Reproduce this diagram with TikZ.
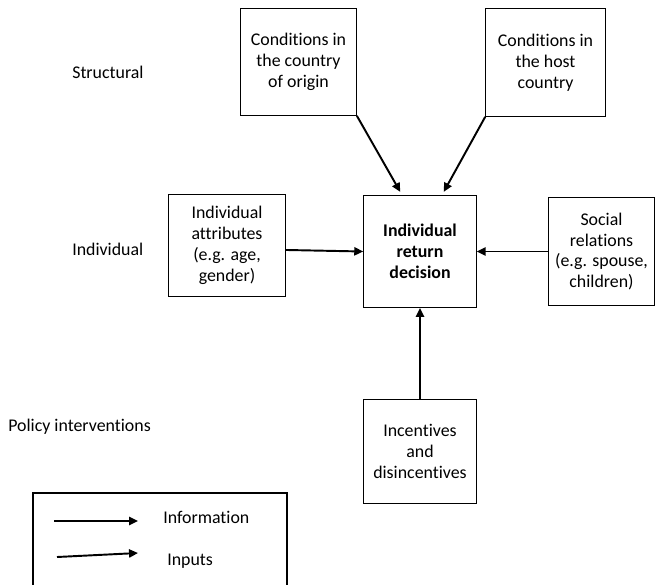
\documentclass[tikz,border=0pt]{standalone}
\usepackage{fontspec}
\setmainfont{Carlito}[Ligatures=NoCommon]
\usetikzlibrary{arrows.meta}
\begin{document}
\begin{tikzpicture}[x=0.0236cm,y=-0.0236cm,
  font=\fontsize{12pt}{14pt}\selectfont,
  box/.style={draw,line width=0.7pt,align=center,inner sep=0pt,outer sep=0pt},
  arr/.style={line width=1.3pt,-{Triangle[length=6pt,width=5.5pt]}},
  lab/.style={anchor=west,inner sep=0pt}]
\useasboundingbox (0,0) rectangle (657,584);
\node[box,minimum width=78.4pt,minimum height=72.3pt] (O) at (298.5,62) {Conditions in\\the country\\of origin};
\node[box,minimum width=81pt,minimum height=73pt] (H) at (545.5,62.5) {Conditions in\\the host\\country};
\node[box,minimum width=79pt,minimum height=69pt] (L) at (227,245.5) {Individual\\attributes\\(e.g. age,\\gender)};
\node[box,minimum width=76.3pt,minimum height=75.7pt,font=\fontsize{12pt}{14pt}\selectfont\bfseries] (C) at (420,251.5) {Individual\\return\\decision};
\node[box,minimum width=71.7pt,minimum height=73pt] (S) at (601.5,251.5) {Social\\relations\\(e.g. spouse,\\children)};
\node[box,minimum width=76.3pt,minimum height=70.3pt] (B) at (420,451.5) {Incentives\\and\\disincentives};
\node[lab] (t1) at (72,72) {Structural};
\node[lab] (t2) at (72,249) {Individual};
\node[lab] (t3) at (8,427) {Policy interventions};
\draw[arr,shorten >=2.5pt] (O.south east) -- ([xshift=-12pt]C.north);
\draw[arr,shorten >=2.5pt] (H.south west) -- ([xshift=14.7pt]C.north);
\draw[arr] ([yshift=-3pt]L.east) -- (C.west);
\draw[arr] (S.west) -- (C.east);
\draw[arr] (B.north) -- (C.south);
% legend
\draw[line width=0.7pt] (33,600) -- (33,493) -- (287,493) -- (287,600);
\coordinate (i1) at (54,521);
\coordinate (i2) at (138,521);
\coordinate (p1) at (57,557);
\coordinate (p2) at (138,553);
\draw[arr] (i1) -- (i2);
\draw[arr] (p1) -- (p2);
\node[lab] (li) at (163,517) {Information};
\node[lab] (lp) at (167,561) {Inputs};
\end{tikzpicture}
\end{document}
